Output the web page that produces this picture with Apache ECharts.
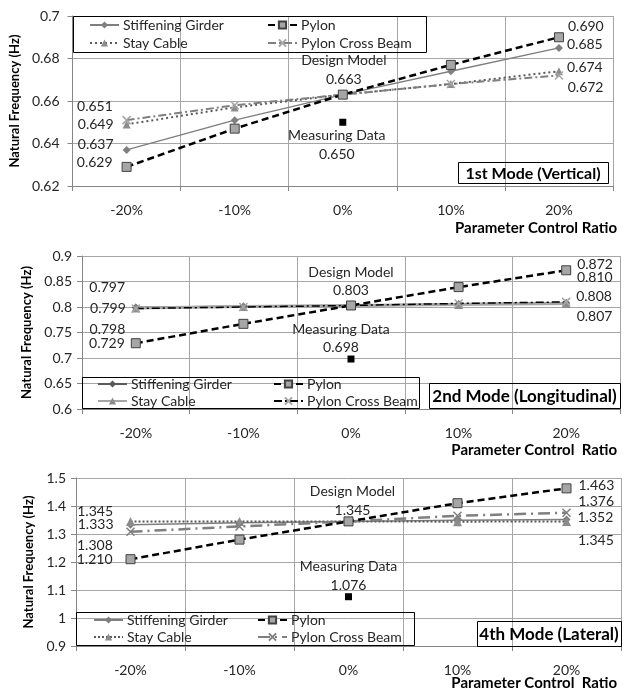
<!DOCTYPE html>
<html>
<head>
<meta charset="utf-8">
<script src="https://cdn.jsdelivr.net/npm/echarts@6/dist/echarts.min.js"></script>
<style>
html,body{margin:0;padding:0;background:#fff}
#chart{width:631px;height:691px}
</style>
</head>
<body>
<div id="chart"></div>
<script>
// Parameter control ratios along the horizontal axis
const categories = ['-20%', '-10%', '0%', '10%', '20%'];

// 1st mode (vertical), natural frequency in Hz
const mode1Girder    = [0.637, 0.651, 0.663, 0.674, 0.685];
const mode1Pylon     = [0.629, 0.647, 0.663, 0.677, 0.690];
const mode1Cable     = [0.649, 0.657, 0.663, 0.668, 0.674];
const mode1CrossBeam = [0.651, 0.658, 0.663, 0.668, 0.672];
const mode1Measured  = 0.650;
const mode1Ticks     = [0.62, 0.64, 0.66, 0.68, 0.70];

// 2nd mode (longitudinal)
const mode2Girder    = [0.799, 0.801, 0.803, 0.806, 0.808];
const mode2Pylon     = [0.729, 0.767, 0.803, 0.839, 0.872];
const mode2Cable     = [0.798, 0.801, 0.803, 0.805, 0.807];
const mode2CrossBeam = [0.797, 0.800, 0.803, 0.807, 0.810];
const mode2Measured  = 0.698;
const mode2Ticks     = [0.60, 0.65, 0.70, 0.75, 0.80, 0.85, 0.90];

// 4th mode (lateral)
const mode4Girder    = [1.333, 1.340, 1.345, 1.349, 1.352];
const mode4Pylon     = [1.210, 1.280, 1.345, 1.410, 1.463];
const mode4Cable     = [1.345, 1.345, 1.345, 1.344, 1.345];
const mode4CrossBeam = [1.308, 1.327, 1.345, 1.365, 1.376];
const mode4Measured  = 1.076;
const mode4Ticks     = [0.9, 1.0, 1.1, 1.2, 1.3, 1.4, 1.5];

const seriesNames = {
  girder: 'Stiffening Girder',
  pylon: 'Pylon',
  cable: 'Stay Cable',
  beam: 'Pylon Cross Beam'
};
const panelTitles = ['1st Mode (Vertical)', '2nd Mode (Longitudinal)', '4th Mode (Lateral)'];
const xAxisNames = ['Parameter Control Ratio', 'Parameter Control  Ratio', 'Parameter Control  Ratio'];
const yAxisName = 'Natural Frequency (Hz)';

const panels = [
  { girder: mode1Girder, pylon: mode1Pylon, cable: mode1Cable, beam: mode1CrossBeam, measured: mode1Measured, ticks: mode1Ticks },
  { girder: mode2Girder, pylon: mode2Pylon, cable: mode2Cable, beam: mode2CrossBeam, measured: mode2Measured, ticks: mode2Ticks },
  { girder: mode4Girder, pylon: mode4Pylon, cable: mode4Cable, beam: mode4CrossBeam, measured: mode4Measured, ticks: mode4Ticks }
];

// ---- layout and styling ----
const FONT = 'Lato, "Liberation Sans", sans-serif';
const GRID_COLOR = '#a6a6a6';
const AXIS_COLOR = '#868686';
const TEXT_COLOR = '#262626';
const CROSS = 'path://M0,0L10,10M10,0L0,10';

const layout = [
  { grid: { left: 72, top: 16, width: 541, height: 170 }, yLabelMargin: 13, yNameGap: 42,
    legendBox: [73, 16, 353, 36], legendLeft: [89, 267], legendTop: 16, legendRow: 18,
    titleBox: [458, 162, 150, 21], titleSize: 16, xNameY: 228 },
  { grid: { left: 82, top: 256, width: 538, height: 153 }, yLabelMargin: 10, yNameGap: 43,
    legendBox: [82, 377, 337, 31], legendLeft: [97, 273], legendTop: 375.5, legendRow: 17,
    titleBox: [429, 383, 191, 25], titleSize: 17, xNameY: 450 },
  { grid: { left: 76, top: 478, width: 545, height: 168 }, yLabelMargin: 10, yNameGap: 35,
    legendBox: [76, 612, 338, 33], legendLeft: [93, 257], legendTop: 611.5, legendRow: 17,
    titleBox: [477, 621, 144, 25], titleSize: 17, xNameY: 683 }
];

// Value label placement: vertical shifts for the end-point labels of each line
const labelPlacement = [
  { firstDist: 9, lastDist: 4,
    first: { girder: -5, pylon: -4, cable: 0, beam: -14 },
    last:  { girder: -3, pylon: -11, cable: -4, beam: 11.5 },
    design: { dist: 0.5, lh: 19, dx: 1 },
    measured: { pos: 'bottom', dist: 0, lh: 19, dx: -6 } },
  { firstDist: 6, lastDist: 6,
    first: { girder: 0.5, pylon: 0, cable: 21, beam: -21.5 },
    last:  { girder: -6, pylon: -6, cable: 12.6, beam: -24 },
    design: { dist: 0.5, lh: 18, dx: 0 },
    measured: { pos: 'top', dist: -0.5, lh: 18, dx: -10 } },
  { firstDist: 13, lastDist: 7,
    first: { girder: 0, pylon: 0, cable: -10, beam: 14 },
    last:  { girder: -2, pylon: -3, cable: 19, beam: -11 },
    design: { dist: -4, lh: 19, dx: 4 },
    measured: { pos: 'top', dist: -2, lh: 19, dx: 0 } }
];

const lineStyles = [
  { girder: { color: '#7f7f7f', width: 1.5, type: 'solid', symbol: 'diamond', size: 8, fill: '#7f7f7f' },
    cable:  { color: '#595959', width: 2, type: [2, 3], symbol: 'triangle', size: 8, fill: '#8c8c8c' },
    beam:   { color: '#7f7f7f', width: 2, type: [8, 3, 2, 3], symbol: CROSS, size: 8, fill: '#a6a6a6' },
    pylon:  { color: '#000000', width: 2.5, type: [7, 4], symbol: 'rect', size: 9, fill: '#a6a6a6' } },
  { girder: { color: '#595959', width: 2, type: 'solid', symbol: 'diamond', size: 8, fill: '#595959' },
    cable:  { color: '#a6a6a6', width: 3, type: 'solid', symbol: 'triangle', size: 9, fill: '#8c8c8c' },
    beam:   { color: '#000000', width: 1.5, type: [8, 3, 2, 3], symbol: CROSS, size: 8, fill: '#a6a6a6' },
    pylon:  { color: '#000000', width: 2.5, type: [7, 4], symbol: 'rect', size: 9, fill: '#a6a6a6' } },
  { girder: { color: '#7f7f7f', width: 1.5, type: 'solid', symbol: 'diamond', size: 8, fill: '#7f7f7f' },
    cable:  { color: '#595959', width: 2, type: [2, 2], symbol: 'triangle', size: 9, fill: '#8c8c8c' },
    beam:   { color: '#7f7f7f', width: 2.5, type: [12, 5, 2, 5], symbol: CROSS, size: 8, fill: '#808080' },
    pylon:  { color: '#000000', width: 2.5, type: [7, 4], symbol: 'rect', size: 9, fill: '#a6a6a6' } }
];

const fmt = v => Number(v).toFixed(3);
const baseLabel = { fontFamily: FONT, fontSize: 14, color: TEXT_COLOR };

const grids = [], xAxes = [], yAxes = [], series = [], legends = [], graphics = [];

panels.forEach((p, i) => {
  const L = layout[i];
  const P = labelPlacement[i];
  const S = lineStyles[i];
  const tMin = p.ticks[0], tMax = p.ticks[p.ticks.length - 1];
  const tStep = +(p.ticks[1] - p.ticks[0]).toFixed(4);

  grids.push(Object.assign({ containLabel: false }, L.grid));

  xAxes.push({
    type: 'category', gridIndex: i, data: categories, boundaryGap: true,
    axisLine: { show: true, lineStyle: { color: AXIS_COLOR, width: 1 } },
    axisTick: { show: true, length: 5, interval: 0, alignWithLabel: false, lineStyle: { color: AXIS_COLOR } },
    axisLabel: { margin: 17, fontFamily: FONT, fontSize: 14, color: TEXT_COLOR, interval: 0 },
    splitLine: { show: true, interval: 0, lineStyle: { color: GRID_COLOR, width: 1 } }
  });

  yAxes.push({
    type: 'value', gridIndex: i, min: tMin, max: tMax, interval: tStep,
    axisLine: { show: true, lineStyle: { color: AXIS_COLOR, width: 1 } },
    axisTick: { show: true, length: 5, lineStyle: { color: AXIS_COLOR } },
    axisLabel: { margin: L.yLabelMargin, fontFamily: FONT, fontSize: 14, color: TEXT_COLOR,
      formatter: v => String(+v.toFixed(2)) },
    splitLine: { show: true, lineStyle: { color: GRID_COLOR, width: 1 } },
    name: yAxisName, nameLocation: 'middle', nameRotate: 90, nameGap: L.yNameGap,
    nameTextStyle: { fontFamily: FONT, fontSize: 13, fontWeight: 'bold', color: '#000' }
  });

  const order = ['girder', 'cable', 'beam', 'pylon'];
  order.forEach(key => {
    const st = S[key];
    const vals = p[key];
    const last = vals.length - 1;
    const data = vals.map((v, k) => {
      if (k === 0) {
        return { value: v, label: Object.assign({}, baseLabel, { show: true, position: 'left',
          distance: P.firstDist, offset: [0, P.first[key]], formatter: q => fmt(q.value) }) };
      }
      if (k === last) {
        return { value: v, label: Object.assign({}, baseLabel, { show: true, position: 'right',
          distance: P.lastDist, offset: [0, P.last[key]], formatter: q => fmt(q.value) }) };
      }
      if (key === 'pylon' && categories[k] === '0%') {
        return { value: v, label: Object.assign({}, baseLabel, { show: true, position: 'top',
          distance: P.design.dist, offset: [P.design.dx, 0], lineHeight: P.design.lh, align: 'center',
          formatter: q => 'Design Model\n' + fmt(q.value) }) };
      }
      return v;
    });
    const isCross = st.symbol === CROSS;
    series.push({
      type: 'line', name: seriesNames[key] + '#' + i, xAxisIndex: i, yAxisIndex: i,
      data: data, symbol: st.symbol, symbolSize: st.size, showAllSymbol: true,
      lineStyle: { color: st.color, width: st.width, type: st.type },
      itemStyle: isCross
        ? { color: st.fill, borderColor: st.fill, borderWidth: 1.5 }
        : { color: st.fill, borderColor: key === 'pylon' ? '#404040' : st.fill, borderWidth: key === 'pylon' ? 1 : 0 },
      emphasis: { disabled: true },
      label: { show: false },
      z: key === 'pylon' ? 4 : 3,
      animation: false
    });
  });

  // measured frequency at the design state
  series.push({
    type: 'scatter', name: 'Measuring Data#' + i, xAxisIndex: i, yAxisIndex: i,
    data: [[categories.indexOf('0%'), p.measured]],
    symbol: 'rect', symbolSize: 7, itemStyle: { color: '#000', opacity: 1 },
    label: Object.assign({}, baseLabel, { show: true, position: P.measured.pos, distance: P.measured.dist,
      offset: [P.measured.dx, 0], lineHeight: P.measured.lh, align: 'center', opacity: 1,
      formatter: q => 'Measuring Data\n' + fmt(q.value[1]) }),
    emphasis: { disabled: true }, z: 5, animation: false
  });

  // two-column legend framed by a box
  const legendBase = {
    orient: 'vertical', top: L.legendTop, padding: 0, itemGap: 0,
    itemWidth: 29, itemHeight: 9, selectedMode: false,
    formatter: n => n.split('#')[0],
    textStyle: { fontFamily: FONT, fontSize: 14, color: TEXT_COLOR, lineHeight: L.legendRow, padding: [0, 0, 0, -1] }
  };
  legends.push(Object.assign({}, legendBase, { left: L.legendLeft[0],
    data: [seriesNames.girder + '#' + i, seriesNames.cable + '#' + i] }));
  legends.push(Object.assign({}, legendBase, { left: L.legendLeft[1],
    data: [seriesNames.pylon + '#' + i, seriesNames.beam + '#' + i] }));

  const [bx, by, bw, bh] = L.legendBox;
  graphics.push({ type: 'rect', shape: { x: bx + 0.5, y: by + 0.5, width: bw, height: bh },
    style: { fill: 'none', stroke: '#000', lineWidth: 1 }, z: 10, silent: true });

  const [tx, ty, tw, th] = L.titleBox;
  graphics.push({ type: 'rect', shape: { x: tx + 0.5, y: ty + 0.5, width: tw, height: th },
    style: { fill: 'none', stroke: '#000', lineWidth: 1 }, z: 10, silent: true });
  graphics.push({ type: 'text', x: tx + tw / 2, y: ty + th / 2 + 1,
    style: { text: panelTitles[i], font: 'bold ' + L.titleSize + 'px ' + FONT, fill: '#000', align: 'center', verticalAlign: 'middle' },
    z: 10, silent: true });

  graphics.push({ type: 'text', x: 617, y: L.xNameY,
    style: { text: xAxisNames[i], font: 'bold 15px ' + FONT, fill: '#000', align: 'right', verticalAlign: 'middle' },
    z: 10, silent: true });
});

const chart = echarts.init(document.getElementById('chart'), null, { renderer: 'canvas' });
chart.setOption({
  backgroundColor: '#fff',
  animation: false,
  grid: grids,
  xAxis: xAxes,
  yAxis: yAxes,
  legend: legends,
  series: series,
  graphic: graphics
});
</script>
</body>
</html>
